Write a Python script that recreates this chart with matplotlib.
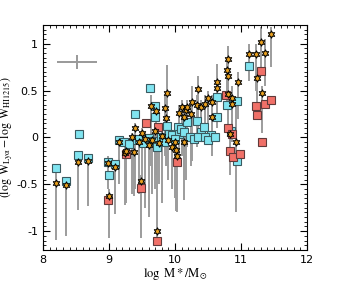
import numpy as np
import matplotlib
matplotlib.use('Agg')
import matplotlib.pyplot as plt
from matplotlib.ticker import MultipleLocator

plt.rcParams['mathtext.fontset'] = 'stix'
plt.rcParams['axes.unicode_minus'] = False

# Stars: stellar mass, offset, and bar ends (low, high)
star_x = [8.20, 8.35, 8.53, 8.68, 8.98, 9.00, 9.09, 9.24, 9.38, 9.48,
          9.72, 9.39, 9.63, 9.71, 9.88, 9.85, 9.86, 9.70, 9.55, 9.45,
          9.60, 9.65, 9.75, 9.80, 9.90, 9.95, 10.00, 10.02, 10.03, 10.06,
          10.10, 10.13, 10.17, 10.18, 10.24, 10.26, 10.33, 10.35, 10.39, 10.45,
          10.50, 10.56, 10.56, 10.64, 10.64, 10.14, 10.80, 10.79, 10.80, 10.95,
          10.80, 10.86, 10.86, 10.83, 10.92, 11.12, 11.23, 11.36, 11.30, 11.45,
          11.24, 11.32, 9.26, 9.15, 9.35, 9.50]
star_y = [-0.49, -0.51, -0.26, -0.25, -0.27, -0.62, -0.32, -0.17, -0.16, -0.46,
          -1.00, 0.10, 0.33, 0.28, 0.47, 0.31, 0.21, 0.07, -0.02, -0.05,
          -0.08, -0.03, -0.06, 0.02, -0.03, -0.10, -0.05, -0.13, -0.20, 0.26,
          0.32, 0.22, 0.29, 0.32, 0.25, 0.38, 0.35, 0.52, 0.32, 0.36,
          0.42, 0.38, 0.22, 0.59, 0.53, -0.05, 0.84, 0.72, 0.65, 0.59,
          0.46, 0.42, 0.36, 0.04, -0.05, 0.89, 0.89, 0.90, 1.02, 1.10,
          0.63, 0.47, -0.14, -0.05, 0.00, 0.05]
star_lo = [-1.09, -1.05, -0.77, -0.73, -0.55, -1.07, -0.82, -0.72, -0.62, -1.07,
           -1.08, -0.55, -0.30, -0.40, -0.30, -0.20, -0.30, -0.55, -0.75, -0.60,
           -0.85, -0.60, -0.50, -0.70, -0.45, -0.55, -0.65, -0.78, -0.80, -0.30,
           -0.20, -0.35, -0.45, -0.10, -0.30, -0.25, -0.10, 0.00, -0.05, 0.00,
           0.05, -0.10, -0.20, 0.20, 0.10, -0.67, 0.40, 0.30, 0.20, 0.20,
           0.10, 0.00, -0.05, -0.40, -0.80, 0.60, 0.50, 0.55, 0.70, 0.75,
           0.30, 0.05, -0.70, -0.50, -0.60, -0.45]
star_hi = [-0.36, -0.45, -0.20, -0.20, -0.20, -0.55, -0.25, -0.05, -0.02, -0.40,
           -0.10, 0.15, 0.45, 0.35, 0.77, 0.45, 0.30, 0.15, 0.05, 0.00,
           0.00, 0.05, 0.00, 0.10, 0.05, 0.00, 0.05, -0.05, -0.10, 0.35,
           0.40, 0.30, 0.35, 0.40, 0.33, 0.55, 0.45, 0.65, 0.40, 0.45,
           0.50, 0.45, 0.30, 0.78, 0.65, 0.00, 0.98, 0.85, 0.75, 0.70,
           0.55, 0.55, 0.45, 0.10, 0.35, 1.00, 1.00, 1.05, 1.18, 1.18,
           0.70, 0.55, -0.05, 0.00, 0.05, 0.10]

# Cyan squares
cyan_x = [8.20, 8.35, 8.55, 8.53, 8.68, 8.98, 9.09, 9.00, 9.39, 9.62,
          9.70, 9.70, 9.88, 9.15, 9.23, 9.39, 9.46, 9.52, 9.60, 9.66,
          9.72, 9.78, 9.84, 9.91, 9.95, 10.05, 10.06, 10.09, 10.14, 10.18,
          10.33, 10.39, 10.44, 10.55, 10.64, 10.64, 10.79, 10.94, 11.12, 10.94,
          10.00, 10.22, 10.28, 10.35, 10.45, 10.50, 10.60, 10.85, 9.30]
cyan_y = [-0.33, -0.47, 0.04, -0.19, -0.22, -0.26, -0.28, -0.40, 0.25, 0.53,
          0.34, 0.22, 0.12, -0.03, -0.05, -0.03, -0.02, -0.06, -0.01, -0.04,
          -0.10, 0.00, -0.05, 0.04, 0.03, 0.11, 0.04, 0.09, 0.06, 0.16,
          0.18, 0.06, 0.11, 0.03, 0.22, 0.43, 0.35, 0.39, 0.76, -0.25,
          -0.02, 0.00, -0.02, 0.00, 0.00, -0.03, 0.00, 0.07, -0.07]

# Red squares
red_x = [8.98, 9.26, 9.48, 9.72, 9.56, 9.74, 10.03, 10.77, 10.80, 10.86,
         10.83, 10.88, 10.98, 11.32, 11.30, 11.23, 11.36, 11.45, 11.24]
red_y = [-0.67, -0.18, -0.54, -1.11, 0.15, 0.11, -0.26, 0.45, 0.10, 0.04,
         -0.14, -0.21, -0.18, -0.05, 0.71, 0.34, 0.36, 0.40, 0.24]

# Typical error cross
err_x, err_y, err_dx, err_dy = 8.51, 0.80, 0.30, 0.075

fig = plt.figure(figsize=(3.48, 2.83), dpi=100)
ax = fig.add_axes([0.124, 0.117, 0.758, 0.795])

ax.vlines(star_x, star_lo, star_hi, color='#9c9c9c', lw=1.4, zorder=1)

ax.plot(cyan_x, cyan_y, 's', ms=5.5, mfc='#80e4f0', mec='#3a5a60', mew=0.8, zorder=2)
ax.plot(red_x, red_y, 's', ms=5.5, mfc='#f07068', mec='#603a3a', mew=0.8, zorder=2)
ax.plot(star_x, star_y, marker=(6, 1, 0), ls='none', ms=5.5, mfc='#e8a020',
        mec='black', mew=0.7, zorder=3)

ax.errorbar(err_x, err_y, xerr=err_dx, yerr=err_dy, color='#999999', lw=1.4,
            capsize=0, zorder=1)

ax.set_xlim(8, 12)
ax.set_ylim(-1.2, 1.2)
ax.xaxis.set_major_locator(MultipleLocator(1))
ax.xaxis.set_minor_locator(MultipleLocator(0.1))
ax.yaxis.set_major_locator(MultipleLocator(0.5))
ax.yaxis.set_minor_locator(MultipleLocator(0.05))
ax.set_yticks([-1, -0.5, 0, 0.5, 1])
ax.set_yticklabels(['-1', '-0.5', '0', '0.5', '1'])
ax.tick_params(which='both', direction='in', top=True, right=True, labelsize=8)
ax.tick_params(which='major', length=5, width=0.8)
ax.tick_params(which='minor', length=2.5, width=0.6)

ax.set_xlabel(r'$\log\ {\rm M}*/{\rm M}_{\odot}$', fontsize=9, labelpad=1)
ax.set_ylabel(r'$(\log\ {\rm W}_{\rm Ly\alpha} - \log\ {\rm W}_{\rm HI1215})$',
              fontsize=8.5, labelpad=1)

fig.savefig('out.png', dpi=100)
